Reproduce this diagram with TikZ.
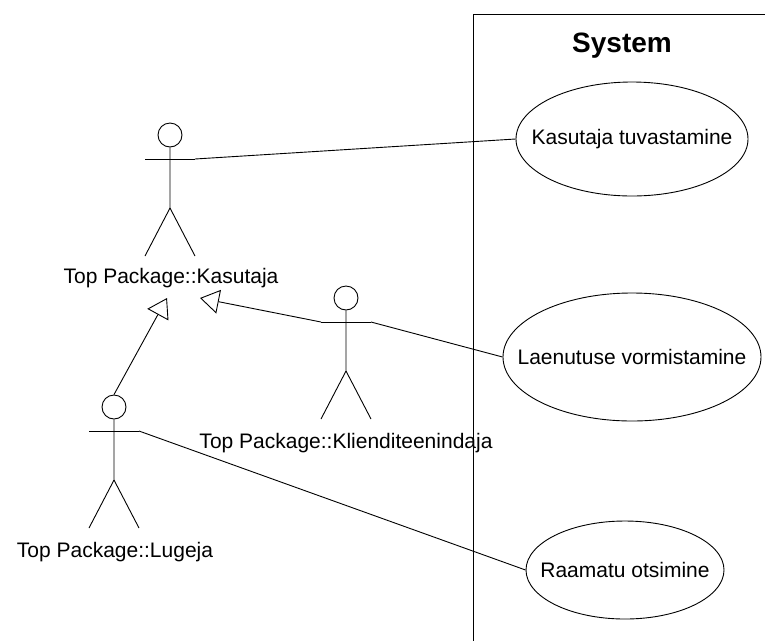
\documentclass[tikz,border=0pt]{standalone}
\usepackage{fontspec}
\setmainfont{Liberation Sans}
\usetikzlibrary{shapes.geometric,arrows.meta}

\tikzset{
  line/.style={draw=black, line width=0.9pt},
  usecase/.style={ellipse, line, inner sep=0pt, font=\fontsize{21}{25}\selectfont},
  actorlabel/.style={anchor=base, inner sep=0pt, font=\fontsize{21}{25}\selectfont},
  actorhead/.style={circle, line, minimum size=24pt, inner sep=0pt},
  gen/.style={line, -{Triangle[open, length=19pt, width=24pt, line width=0.9pt]}},
  assoc/.style={line},
  % stick figure: head, body, arms and legs; exposes -head, -l and -r (arm ends)
  actor/.pic={
    \node[actorhead] (-head) at (0,0) {};
    \coordinate (-l) at (-25,24);
    \coordinate (-r) at (25,24);
    \draw[line] (-head.south) -- (0,73) -- (-25,121);
    \draw[line] (0,73) -- (25,121);
    \draw[line] (-l) -- (-r);
  }
}
% zero-width text box so the ellipse size comes from minimum width/height only
\newcommand{\uctext}[1]{\makebox[0pt]{#1}}

\begin{document}
\begin{tikzpicture}[x=1pt, y=-1pt]
\useasboundingbox (0,0) rectangle (765,641);

% system boundary
\draw[line] (765,14) -- (473,14) -- (473,641);
\node[anchor=base, inner sep=0pt, font=\fontsize{28}{32}\selectfont\bfseries] (systitle) at (622,52) {System};

% use cases
\node[usecase, minimum width=232pt, minimum height=114pt] (uc1) at (632,139) {\uctext{Kasutaja tuvastamine}};
\node[usecase, minimum width=258pt, minimum height=128pt] (uc2) at (632,357) {\uctext{Laenutuse vormistamine}};
\node[usecase, minimum width=198pt, minimum height=98pt] (uc3) at (625,570) {\uctext{Raamatu otsimine}};

% actors
\pic (kas) at (170,135) {actor};
\node[actorlabel] (kaslabel) at (171,283) {Top Package::Kasutaja};

\pic (kli) at (346,298) {actor};
\node[actorlabel] (klilabel) at (346,448) {Top Package::Klienditeenindaja};

\pic (lug) at (114,407) {actor};
\node[actorlabel] (luglabel) at (115,557) {Top Package::Lugeja};

% generalization targets below the Kasutaja label
\coordinate (gentipA) at (167,298);
\coordinate (gentipB) at (200,298);

% generalizations
\draw[gen] (lug-head.north) -- (gentipA);
\draw[gen] (kli-l) -- (gentipB);

% associations
\draw[assoc] (kas-r) -- (uc1.west);
\draw[assoc] (kli-r) -- (uc2.west);
\draw[assoc] (lug-r) -- (uc3.west);
\end{tikzpicture}
\end{document}
